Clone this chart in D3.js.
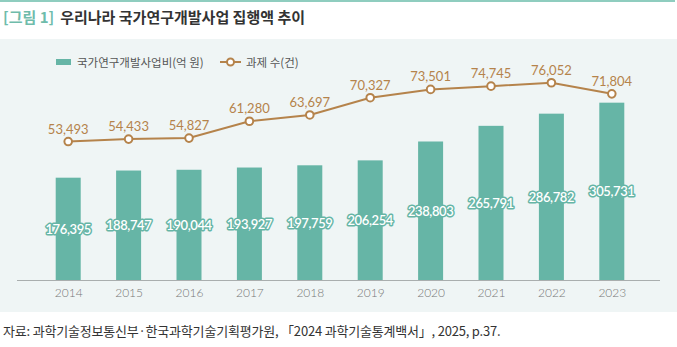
<!DOCTYPE html>
<html><head><meta charset="utf-8">
<script src="https://cdn.jsdelivr.net/npm/d3@7"></script>
<style>
body{margin:0;background:#fff;}
svg{display:block;}
</style></head>
<body>
<svg id="chart" width="677" height="347"></svg>
<script>
const years = ["2014","2015","2016","2017","2018","2019","2020","2021","2022","2023"];
const budget = [176395,188747,190044,193927,197759,206254,238803,265791,286782,305731];
const projects = [53493,54433,54827,61280,63697,70327,73501,74745,76052,71804];
const titleTag = "[그림 1]";
const titleText = "우리나라 국가연구개발사업 집행액 추이";
const legendLabels = ["국가연구개발사업비(억 원)", "과제 수(건)"];
const source = "자료: 과학기술정보통신부·한국과학기술기획평가원, 「2024 과학기술통계백서」, 2025, p.37.";

const teal = "#66b5a6", brown = "#b5834b";
const svg = d3.select("#chart");
const fmt = d3.format(",");
const kfont = "'Noto Sans CJK KR','Noto Sans',sans-serif";
const nfont = "Lato,'Noto Sans',sans-serif";

// top line
svg.append("rect").attr("x",0).attr("y",0).attr("width",675).attr("height",2).attr("fill","#8fcdbf");
// title
const t = svg.append("text").attr("x",3).attr("y",23).attr("font-family",kfont).attr("font-size",15).attr("font-weight",700);
t.append("tspan").attr("fill","#6fbcab").text(titleTag);
t.append("tspan").attr("fill","#333").attr("dx",6).text(titleText);
// panel
svg.append("rect").attr("x",0).attr("y",39).attr("width",677).attr("height",273).attr("fill","#eff5f5");

const x = d3.scalePoint().domain(years).range([38,642]).padding(0.5);
const yBar = d3.scaleLinear().domain([0,400000]).range([280,48]);
const yLine = d3.scaleLinear().domain([0,89000]).range([281,49]);
const bw = 25;

// bars
svg.append("g").selectAll("rect").data(budget).join("rect")
  .attr("x",(d,i)=>x(years[i])-bw/2).attr("width",bw)
  .attr("y",d=>yBar(d)).attr("height",d=>yBar(0)-yBar(d))
  .attr("fill",teal);

// axis
const ax = svg.append("g").attr("transform","translate(0,280)").call(d3.axisBottom(x).tickSize(0).tickPadding(8));
ax.select(".domain").remove();
ax.selectAll("text").attr("font-family",nfont).attr("font-size",12).attr("fill","#777").attr("font-weight",300);
svg.append("line").attr("x1",17).attr("x2",660).attr("y1",280.5).attr("y2",280.5).attr("stroke","#a9aeae").attr("stroke-width",1);

// bar labels
svg.append("g").selectAll("text").data(budget).join("text")
  .attr("x",(d,i)=>x(years[i])).attr("y",d=>(yBar(d)+yBar(0))/2)
  .attr("text-anchor","middle").attr("dominant-baseline","central")
  .attr("font-family",nfont).attr("font-size",13).attr("font-weight",600)
  .attr("letter-spacing",-0.4)
  .attr("fill","#fff").attr("stroke",teal).attr("stroke-width",3).attr("paint-order","stroke")
  .attr("stroke-linejoin","round")
  .text(d=>fmt(d));

// line
const line = d3.line().x((d,i)=>x(years[i])).y(d=>yLine(d));
svg.append("path").datum(projects).attr("d",line).attr("fill","none").attr("stroke",brown).attr("stroke-width",2);
svg.append("g").selectAll("circle").data(projects).join("circle")
  .attr("cx",(d,i)=>x(years[i])).attr("cy",d=>yLine(d)).attr("r",3.8)
  .attr("fill","#fff").attr("stroke",brown).attr("stroke-width",2);
svg.append("g").selectAll("text").data(projects).join("text")
  .attr("x",(d,i)=>x(years[i])).attr("y",d=>yLine(d)-13)
  .attr("text-anchor","middle").attr("dominant-baseline","central")
  .attr("font-family",nfont).attr("font-size",13).attr("fill",brown)
  .text(d=>fmt(d));

// legend
svg.append("rect").attr("x",56).attr("y",59).attr("width",15).attr("height",6).attr("fill",teal);
svg.append("text").attr("x",77).attr("y",62).attr("dominant-baseline","central")
  .attr("font-family",kfont).attr("font-size",11.5).attr("fill","#555").text(legendLabels[0]);
svg.append("line").attr("x1",220).attr("x2",241).attr("y1",62).attr("y2",62).attr("stroke",brown).attr("stroke-width",2);
svg.append("circle").attr("cx",230.5).attr("cy",62).attr("r",3.5).attr("fill","#fff").attr("stroke",brown).attr("stroke-width",2);
svg.append("text").attr("x",246).attr("y",62).attr("dominant-baseline","central")
  .attr("font-family",kfont).attr("font-size",11.5).attr("fill","#555").text(legendLabels[1]);

// source
svg.append("text").attr("x",3).attr("y",330).attr("dominant-baseline","central")
  .attr("font-family",kfont).attr("font-size",13).attr("fill","#333").attr("letter-spacing",-0.2).text(source);
</script>
</body></html>
